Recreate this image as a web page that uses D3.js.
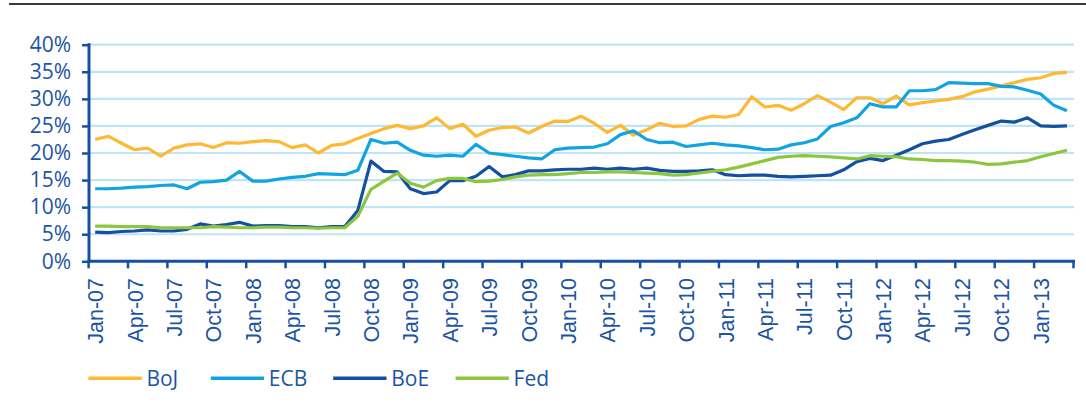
<!DOCTYPE html>
<html>
<head>
<meta charset="utf-8">
<script src="https://cdn.jsdelivr.net/npm/d3@7"></script>
<style>
  html, body { margin: 0; padding: 0; background: #ffffff; }
  svg { display: block; }
</style>
</head>
<body>
<svg id="chart" width="1086" height="408"></svg>
<script>
// ---------- data ----------
const seriesNames = ["BoJ", "ECB", "BoE", "Fed"];
const tickLabels = ["Jan-07","Apr-07","Jul-07","Oct-07","Jan-08","Apr-08","Jul-08","Oct-08",
  "Jan-09","Apr-09","Jul-09","Oct-09","Jan-10","Apr-10","Jul-10","Oct-10","Jan-11","Apr-11",
  "Jul-11","Oct-11","Jan-12","Apr-12","Jul-12","Oct-12","Jan-13"];
const yTickValues = [0, 5, 10, 15, 20, 25, 30, 35, 40];

const boj = [22.5,23.1,21.8,20.6,20.9,19.4,20.9,21.5,21.7,21.0,21.9,21.8,
  22.1,22.3,22.1,21.0,21.5,20.0,21.4,21.7,22.7,23.6,24.5,25.1,
  24.5,25.0,26.5,24.5,25.3,23.1,24.2,24.7,24.8,23.7,24.9,25.9,
  25.8,26.8,25.5,23.8,25.1,23.3,24.3,25.5,24.9,25.0,26.2,26.8,
  26.6,27.1,30.4,28.5,28.8,27.9,29.1,30.6,29.4,28.0,30.2,30.2,
  29.1,30.5,28.9,29.3,29.6,29.9,30.4,31.3,31.8,32.4,33.0,33.6,
  33.9,34.7,34.9];
const ecb = [13.4,13.4,13.5,13.7,13.8,14.0,14.1,13.4,14.6,14.7,15.0,16.6,
  14.8,14.8,15.2,15.5,15.7,16.2,16.1,16.0,16.8,22.5,21.8,22.0,
  20.5,19.6,19.4,19.6,19.4,21.6,20.0,19.7,19.4,19.1,18.9,20.6,
  20.9,21.0,21.1,21.7,23.4,24.1,22.5,21.9,22.0,21.2,21.5,21.8,
  21.5,21.3,21.0,20.6,20.7,21.5,21.9,22.6,24.9,25.6,26.5,29.1,
  28.5,28.5,31.5,31.5,31.7,33.0,32.9,32.8,32.8,32.3,32.2,31.6,
  30.9,28.8,27.8];
const boe = [5.4,5.3,5.5,5.6,5.8,5.6,5.6,5.9,6.9,6.5,6.8,7.2,
  6.5,6.6,6.6,6.4,6.4,6.2,6.4,6.4,9.4,18.5,16.6,16.5,
  13.4,12.5,12.8,14.9,14.9,15.7,17.5,15.6,16.0,16.7,16.7,16.9,
  17.0,17.0,17.2,17.0,17.2,17.0,17.2,16.8,16.6,16.6,16.7,16.9,
  16.0,15.8,15.9,15.9,15.7,15.6,15.7,15.8,15.9,16.9,18.4,19.0,
  18.6,19.6,20.6,21.7,22.2,22.5,23.4,24.3,25.1,25.9,25.7,26.5,
  25.0,24.9,25.0];
const fed = [6.5,6.5,6.4,6.4,6.4,6.2,6.2,6.2,6.2,6.4,6.3,6.2,
  6.2,6.3,6.3,6.2,6.2,6.1,6.2,6.2,8.3,13.3,14.8,16.3,
  14.4,13.7,14.9,15.3,15.3,14.7,14.8,15.1,15.6,15.9,16.0,16.0,
  16.2,16.4,16.4,16.5,16.5,16.4,16.3,16.2,15.9,16.0,16.3,16.6,
  16.9,17.4,18.0,18.6,19.2,19.4,19.5,19.4,19.3,19.1,18.9,19.5,
  19.4,19.3,18.9,18.8,18.6,18.6,18.5,18.3,17.9,18.0,18.3,18.6,
  19.3,19.9,20.5];

// monthly categories Jan-07 .. Mar-13
const fmt = d3.timeFormat("%b-%y");
const categories = d3.timeMonths(new Date(2007, 0, 1), new Date(2013, 3, 1)).map(fmt);

// ---------- styling ----------
const colors = { BoJ: "#FDB934", ECB: "#12A3E1", BoE: "#1450A0", Fed: "#8CC63F" };
const axisColor = "#1650A0";
const textColor = "#1C54A4";
const gridColor = "#BEE5F7";

const svg = d3.select("#chart");

// top rule
svg.append("line").attr("x1", 9).attr("x2", 1086).attr("y1", 4).attr("y2", 4)
  .attr("stroke", "#3a3a3a").attr("stroke-width", 1.8);

const x = d3.scaleBand().domain(categories).range([88.6, 1073.5]).paddingInner(0).paddingOuter(0);
const y = d3.scaleLinear().domain([0, 40]).range([261.3, 44.7]);
const bw = x.bandwidth();

// gridlines
svg.append("g").selectAll("line")
  .data(yTickValues.filter(v => v > 0))
  .join("line")
  .attr("x1", 90).attr("x2", 1074)
  .attr("y1", d => y(d)).attr("y2", d => y(d))
  .attr("stroke", gridColor).attr("stroke-width", 2.2);

// lines
const series = { BoJ: boj, ECB: ecb, BoE: boe, Fed: fed };
const line = d3.line()
  .x((d, i) => x(categories[i]) + bw / 2)
  .y(d => y(d));
seriesNames.forEach(name => {
  svg.append("path")
    .datum(series[name])
    .attr("fill", "none")
    .attr("stroke", colors[name])
    .attr("stroke-width", 3.2)
    .attr("stroke-linejoin", "round")
    .attr("d", line);
});

// y axis
const yAxis = svg.append("g").attr("transform", "translate(89,0)")
  .call(d3.axisLeft(y).tickValues(yTickValues).tickSize(7).tickSizeOuter(0).tickPadding(11)
    .tickFormat(d => d + "%"));
yAxis.select(".domain").attr("stroke", axisColor).attr("stroke-width", 3)
  .attr("d", `M0,${y(40) - 1.5}V${y(0) + 1.5}`);
yAxis.selectAll(".tick line").attr("stroke", axisColor).attr("stroke-width", 2.5);
yAxis.selectAll(".tick text")
  .attr("fill", textColor)
  .style("font-family", "'Open Sans', 'DejaVu Sans', sans-serif")
  .style("font-size", "21px");

// x axis
const xg = svg.append("g");
xg.append("line").attr("x1", 87.5).attr("x2", 1075).attr("y1", y(0)).attr("y2", y(0))
  .attr("stroke", axisColor).attr("stroke-width", 3);
const tickPos = tickLabels.map(l => x(l)).concat([x.range()[1]]);
xg.selectAll("line.xt").data(tickPos).join("line").attr("class", "xt")
  .attr("x1", d => d).attr("x2", d => d)
  .attr("y1", y(0)).attr("y2", y(0) + 7)
  .attr("stroke", axisColor).attr("stroke-width", 2.5);
xg.selectAll("text").data(tickLabels).join("text")
  .attr("transform", d => `translate(${x(d) + bw / 2 + 1},278) rotate(-90)`)
  .attr("text-anchor", "end")
  .attr("dominant-baseline", "central")
  .attr("fill", textColor)
  .style("font-family", "'Liberation Sans', Arial, sans-serif")
  .style("font-size", "21.5px")
  .text(d => d);

// legend
const legendX = d3.scaleLinear().domain([0, 1]).range([88.4, 210.8]);
const lg = svg.append("g");
seriesNames.forEach((name, i) => {
  const lx = legendX(i);
  lg.append("line").attr("x1", lx).attr("x2", lx + 53.3).attr("y1", 378.3).attr("y2", 378.3)
    .attr("stroke", colors[name]).attr("stroke-width", 3.6);
  lg.append("text").attr("x", lx + 58).attr("y", 385.5)
    .attr("fill", textColor)
    .style("font-family", "'Open Sans', 'DejaVu Sans', sans-serif")
    .style("font-size", "21px")
    .text(name);
});
</script>
</body>
</html>
